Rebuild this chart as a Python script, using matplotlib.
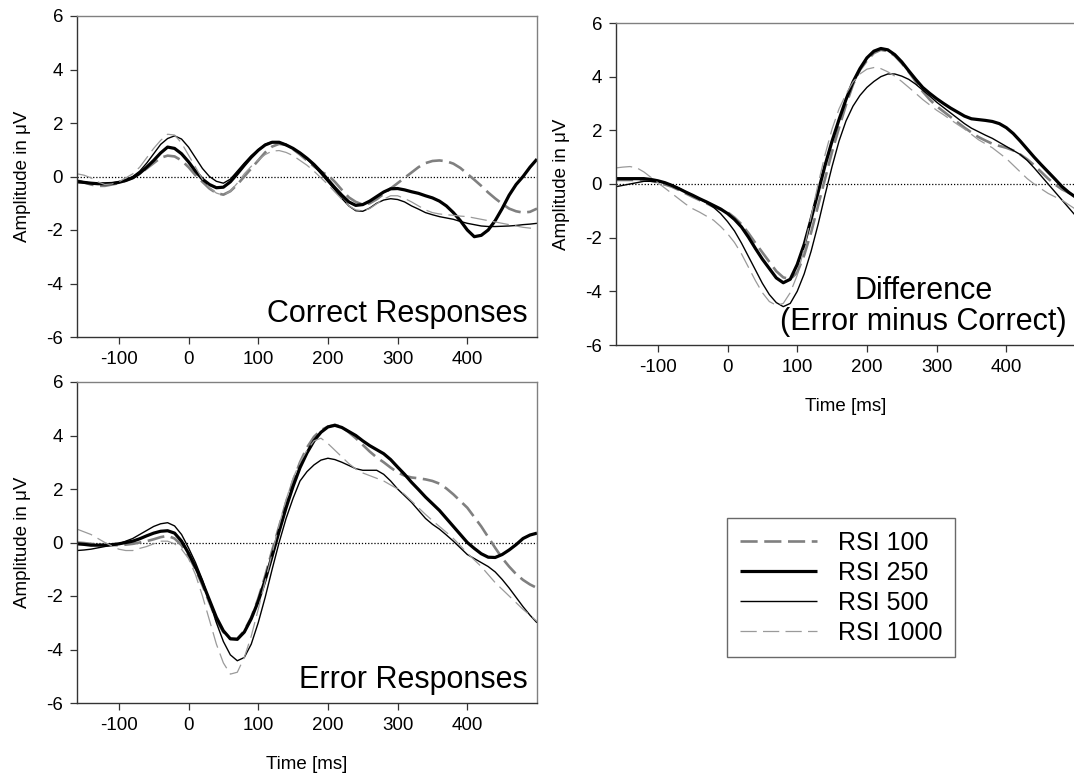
import matplotlib
matplotlib.use("Agg")
import matplotlib.pyplot as plt

plt.rcParams['font.family'] = ['Liberation Sans', 'DejaVu Sans']
plt.rcParams['axes.unicode_minus'] = False

# time axis (ms), sampled every 10 ms
t = [-160, -150, -140, -130, -120, -110, -100, -90, -80, -70, -60, -50, -40, -30, -20, -10,
     0, 10, 20, 30, 40, 50, 60, 70, 80, 90, 100, 110, 120, 130, 140, 150, 160, 170, 180,
     190, 200, 210, 220, 230, 240, 250, 260, 270, 280, 290, 300, 310, 320, 330, 340, 350,
     360, 370, 380, 390, 400, 410, 420, 430, 440, 450, 460, 470, 480, 490, 500]

# ---- Correct Responses
cor_100 = [-0.15, -0.22, -0.3, -0.35, -0.35, -0.3, -0.25, -0.15, -0.05, 0.1, 0.3, 0.5, 0.7,
           0.78, 0.75, 0.6, 0.35, 0.05, -0.2, -0.45, -0.62, -0.68, -0.55, -0.3, 0.0, 0.3,
           0.6, 0.9, 1.12, 1.22, 1.18, 1.02, 0.82, 0.6, 0.38, 0.18, 0.05, -0.2, -0.5, -0.78,
           -0.95, -1.05, -1.0, -0.85, -0.65, -0.45, -0.25, -0.05, 0.15, 0.35, 0.5, 0.58, 0.6,
           0.57, 0.48, 0.32, 0.1, -0.12, -0.35, -0.6, -0.82, -1.02, -1.2, -1.3, -1.35, -1.32,
           -1.2]
cor_250 = [-0.2, -0.22, -0.25, -0.27, -0.27, -0.26, -0.22, -0.15, -0.05, 0.12, 0.35, 0.6,
           0.88, 1.1, 1.05, 0.85, 0.55, 0.2, -0.1, -0.3, -0.42, -0.4, -0.2, 0.1, 0.42, 0.72,
           0.98, 1.18, 1.28, 1.28, 1.18, 1.05, 0.88, 0.68, 0.45, 0.18, -0.12, -0.42, -0.7,
           -0.95, -1.08, -1.05, -0.92, -0.75, -0.58, -0.46, -0.45, -0.5, -0.57, -0.63, -0.72,
           -0.8, -0.92, -1.1, -1.35, -1.65, -2.0, -2.25, -2.2, -2.0, -1.65, -1.2, -0.7, -0.3,
           0.0, 0.35, 0.65]
cor_500 = [-0.15, -0.2, -0.25, -0.27, -0.27, -0.24, -0.2, -0.12, 0.0, 0.2, 0.5, 0.85, 1.2,
           1.42, 1.52, 1.4, 1.1, 0.7, 0.3, 0.0, -0.18, -0.25, -0.1, 0.2, 0.5, 0.78, 1.0, 1.2,
           1.3, 1.28, 1.2, 1.05, 0.88, 0.65, 0.4, 0.1, -0.2, -0.5, -0.82, -1.1, -1.28, -1.3,
           -1.18, -1.0, -0.88, -0.83, -0.86, -0.95, -1.1, -1.22, -1.35, -1.43, -1.5, -1.55,
           -1.6, -1.68, -1.75, -1.8, -1.85, -1.87, -1.87, -1.86, -1.85, -1.83, -1.8, -1.78,
           -1.75]
cor_1000 = [0.1, 0.05, -0.05, -0.2, -0.3, -0.28, -0.2, -0.05, 0.1, 0.35, 0.7, 1.05, 1.35,
            1.58, 1.55, 1.25, 0.8, 0.35, -0.1, -0.42, -0.62, -0.7, -0.55, -0.25, 0.1, 0.38,
            0.62, 0.82, 0.95, 0.97, 0.9, 0.78, 0.6, 0.42, 0.2, -0.05, -0.3, -0.58, -0.85,
            -1.1, -1.25, -1.28, -1.2, -1.02, -0.85, -0.72, -0.72, -0.82, -0.95, -1.1, -1.25,
            -1.35, -1.4, -1.43, -1.45, -1.48, -1.5, -1.55, -1.6, -1.65, -1.7, -1.75, -1.8,
            -1.85, -1.9, -1.93, -1.95]

# ---- Difference (Error minus Correct)
dif_100 = [0.15, 0.15, 0.15, 0.15, 0.15, 0.12, 0.06, -0.02, -0.1, -0.22, -0.35, -0.48, -0.6,
           -0.72, -0.85, -0.95, -1.05, -1.25, -1.5, -1.83, -2.2, -2.55, -2.9, -3.25, -3.48,
           -3.55, -3.3, -2.65, -1.8, -0.8, 0.2, 1.2, 2.1, 2.95, 3.7, 4.25, 4.6, 4.88, 5.0,
           4.95, 4.78, 4.5, 4.18, 3.82, 3.45, 3.15, 2.9, 2.7, 2.5, 2.3, 2.1, 1.92, 1.75, 1.62,
           1.5, 1.42, 1.35, 1.25, 1.1, 0.92, 0.7, 0.45, 0.2, -0.02, -0.2, -0.33, -0.45]
dif_250 = [0.2, 0.2, 0.2, 0.2, 0.2, 0.17, 0.12, 0.05, -0.05, -0.17, -0.3, -0.42, -0.55, -0.67,
           -0.8, -0.93, -1.1, -1.32, -1.6, -1.98, -2.4, -2.8, -3.15, -3.5, -3.68, -3.55, -3.0,
           -2.25, -1.3, -0.3, 0.7, 1.6, 2.4, 3.15, 3.8, 4.3, 4.7, 4.95, 5.05, 5.0, 4.82, 4.55,
           4.22, 3.9, 3.6, 3.38, 3.18, 3.0, 2.83, 2.68, 2.53, 2.43, 2.4, 2.37, 2.33, 2.25, 2.1,
           1.88, 1.6, 1.3, 1.0, 0.72, 0.45, 0.18, -0.1, -0.32, -0.5]
dif_500 = [-0.1, -0.05, 0.0, 0.05, 0.1, 0.1, 0.08, 0.04, -0.03, -0.15, -0.3, -0.42, -0.55,
           -0.7, -0.87, -1.1, -1.4, -1.75, -2.2, -2.7, -3.2, -3.7, -4.12, -4.42, -4.57, -4.45,
           -4.0, -3.35, -2.5, -1.5, -0.4, 0.65, 1.6, 2.35, 2.9, 3.3, 3.6, 3.82, 4.0, 4.1, 4.1,
           4.02, 3.9, 3.72, 3.5, 3.28, 3.05, 2.85, 2.65, 2.45, 2.25, 2.08, 1.95, 1.82, 1.7,
           1.55, 1.4, 1.25, 1.1, 0.88, 0.6, 0.3, 0.0, -0.3, -0.6, -0.9, -1.2]
dif_1000 = [0.6, 0.63, 0.65, 0.6, 0.45, 0.25, 0.05, -0.15, -0.35, -0.55, -0.75, -0.92, -1.05,
            -1.2, -1.35, -1.58, -1.85, -2.18, -2.6, -3.1, -3.6, -4.05, -4.38, -4.52, -4.45,
            -4.05, -3.4, -2.4, -1.2, 0.0, 1.1, 2.05, 2.8, 3.35, 3.8, 4.1, 4.28, 4.34, 4.3,
            4.18, 4.02, 3.82, 3.6, 3.38, 3.15, 2.95, 2.75, 2.58, 2.4, 2.22, 2.05, 1.85, 1.65,
            1.5, 1.35, 1.15, 0.95, 0.7, 0.45, 0.2, 0.0, -0.18, -0.35, -0.48, -0.6, -0.78, -0.95]

# ---- Error Responses
err_100 = [0.0, -0.02, -0.05, -0.08, -0.1, -0.1, -0.1, -0.08, -0.05, 0.0, 0.05, 0.12, 0.2,
           0.25, 0.15, -0.1, -0.5, -1.0, -1.6, -2.25, -2.9, -3.35, -3.6, -3.6, -3.3, -2.8,
           -2.1, -1.25, -0.3, 0.6, 1.5, 2.3, 3.0, 3.55, 3.95, 4.2, 4.33, 4.4, 4.32, 4.12, 3.9,
           3.65, 3.4, 3.18, 3.0, 2.8, 2.62, 2.5, 2.43, 2.4, 2.36, 2.3, 2.2, 2.02, 1.8, 1.55,
           1.3, 0.95, 0.6, 0.2, -0.2, -0.58, -0.9, -1.18, -1.4, -1.57, -1.7]
err_250 = [-0.05, -0.07, -0.1, -0.1, -0.1, -0.08, -0.05, 0.0, 0.05, 0.14, 0.25, 0.35, 0.42,
           0.44, 0.35, 0.05, -0.4, -0.92, -1.5, -2.15, -2.8, -3.3, -3.6, -3.62, -3.35, -2.85,
           -2.2, -1.4, -0.5, 0.42, 1.3, 2.1, 2.8, 3.35, 3.8, 4.12, 4.32, 4.38, 4.3, 4.15, 4.0,
           3.8, 3.62, 3.47, 3.32, 3.1, 2.82, 2.55, 2.25, 1.98, 1.7, 1.45, 1.2, 0.9, 0.6, 0.3,
           0.0, -0.22, -0.42, -0.55, -0.56, -0.45, -0.28, -0.08, 0.15, 0.28, 0.35]
err_500 = [-0.3, -0.28, -0.25, -0.2, -0.15, -0.1, -0.05, 0.05, 0.15, 0.3, 0.45, 0.6, 0.7,
           0.74, 0.62, 0.3, -0.2, -0.75, -1.4, -2.2, -3.0, -3.7, -4.2, -4.42, -4.3, -3.8,
           -3.0, -2.05, -1.0, 0.0, 0.9, 1.65, 2.3, 2.65, 2.9, 3.08, 3.15, 3.1, 3.0, 2.88,
           2.76, 2.7, 2.7, 2.7, 2.55, 2.3, 2.0, 1.75, 1.5, 1.2, 0.9, 0.68, 0.5, 0.28, 0.05,
           -0.2, -0.45, -0.6, -0.75, -0.9, -1.1, -1.38, -1.7, -2.05, -2.4, -2.72, -3.0]
err_1000 = [0.5, 0.4, 0.3, 0.15, 0.0, -0.13, -0.25, -0.3, -0.3, -0.22, -0.15, -0.05, 0.05,
            0.05, -0.05, -0.25, -0.6, -1.2, -2.0, -2.9, -3.8, -4.5, -4.92, -4.85, -4.3, -3.5,
            -2.5, -1.45, -0.4, 0.65, 1.6, 2.4, 3.0, 3.45, 3.8, 3.9, 3.7, 3.45, 3.2, 2.95,
            2.75, 2.6, 2.5, 2.4, 2.3, 2.15, 2.0, 1.8, 1.55, 1.3, 1.05, 0.82, 0.6, 0.38, 0.15,
            -0.12, -0.4, -0.65, -0.9, -1.2, -1.5, -1.75, -2.0, -2.25, -2.5, -2.72, -2.95]

labels = ['RSI 100', 'RSI 250', 'RSI 500', 'RSI 1000']
styles = [dict(color='#808080', lw=1.9, dashes=(6.5, 2.5)),
          dict(color='black', lw=2.3),
          dict(color='black', lw=1.0),
          dict(color='#9a9a9a', lw=0.9, dashes=(13, 5))]

fig = plt.figure(figsize=(10.74, 7.78), dpi=100)
W, H = 1074, 778

def make_ax(x0, y0, x1, y1):
    return fig.add_axes([x0 / W, 1 - y1 / H, (x1 - x0) / W, (y1 - y0) / H])

ax1 = make_ax(77, 16, 537, 337)
ax2 = make_ax(616, 23, 1076, 345)
ax3 = make_ax(77, 382, 537, 703)

panels = [(ax1, [cor_100, cor_250, cor_500, cor_1000], 'Correct Responses'),
          (ax2, [dif_100, dif_250, dif_500, dif_1000], 'Difference\n(Error minus Correct)'),
          (ax3, [err_100, err_250, err_500, err_1000], 'Error Responses')]

for ax, series, title in panels:
    ax.axhline(0, color='black', lw=0.9, ls=(0, (1, 1.5)), zorder=1)
    for ys, lab, st in zip(series, labels, styles):
        ax.plot(t, ys, label=lab, solid_capstyle='butt', dash_capstyle='butt',
                solid_joinstyle='round', **st)
    ax.set_xlim(-160, 500)
    ax.set_ylim(-6, 6)
    ax.set_xticks([-100, 0, 100, 200, 300, 400])
    ax.set_yticks([-6, -4, -2, 0, 2, 4, 6])
    ax.tick_params(direction='out', length=5, width=0.9, labelsize=13.5, pad=5,
                   color='#333333')
    ax.set_ylabel('Amplitude in μV', fontsize=13.5)
    ax.yaxis.set_label_coords(-0.1, 0.5)
    for side in ['left', 'bottom']:
        ax.spines[side].set_color('#333333')
    for side in ['top', 'right']:
        ax.spines[side].set_color('#808080')
    for s in ax.spines.values():
        s.set_linewidth(1.0)
    ax.text(0.98, 0.047, title, transform=ax.transAxes, ha='right', va='baseline',
            fontsize=22, multialignment='center', linespacing=1.05)

for ax in [ax2, ax3]:
    ax.set_xlabel('Time [ms]', fontsize=13.5)
    ax.xaxis.set_label_coords(0.5, -0.165)

handles, labs = ax1.get_legend_handles_labels()
leg = fig.legend(handles, labs, loc='upper left', bbox_to_anchor=(727 / W, 1 - 518 / H),
                 fontsize=18, frameon=True, fancybox=False, handlelength=3.1,
                 handletextpad=0.85, labelspacing=0.24, borderpad=0.5, borderaxespad=0)
leg.get_frame().set_edgecolor('#444444')
leg.get_frame().set_linewidth(1.0)

fig.savefig('out.png', dpi=100)
